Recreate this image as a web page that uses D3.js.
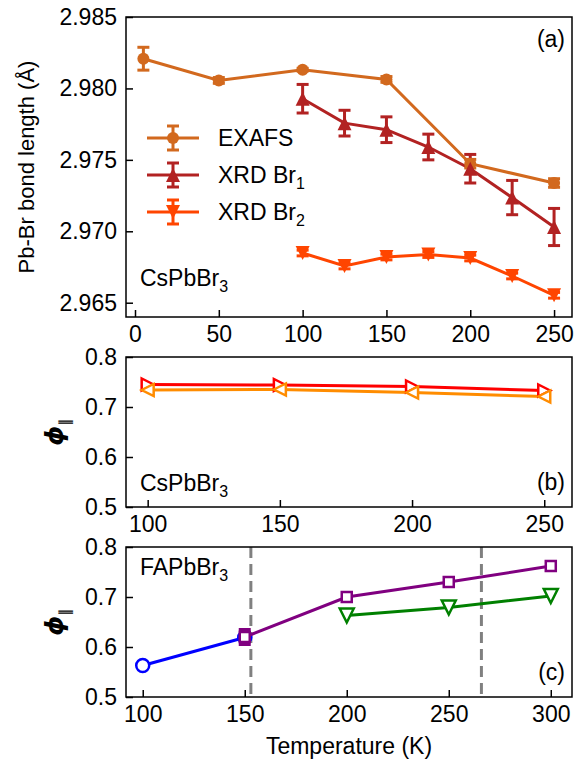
<!DOCTYPE html>
<html>
<head>
<meta charset="utf-8">
<title>Pb-Br bond length and phi</title>
<script src="https://d3js.org/d3.v7.min.js"></script>
<style type="text/css">
    body { margin: 0; background: #fff; }
    svg text { font-family: "Liberation Sans", Arial, sans-serif; fill: #000; }
</style>
</head>
<body>
<div id="chart"></div>
<script type="text/javascript">
// ---- data ----
// panel (a): Pb-Br bond length
var tempExafs = [5, 50, 100, 150, 200, 250];
var exafs = [2.98208, 2.98056, 2.98131, 2.98063, 2.97473, 2.97338];
var exafsErr = [0.0008, 0.0002, 0.0001, 0.0002, 0.0003, 0.0003];

var tempXrd = [100, 125, 150, 175, 200, 225, 250];
var xrdBr1 = [2.97928, 2.97757, 2.97711, 2.97590, 2.97438, 2.97236, 2.97030];
var xrdBr1Err = [0.0010, 0.0009, 0.0009, 0.0009, 0.0010, 0.0012, 0.0013];
var xrdBr2 = [2.96848, 2.96757, 2.96820, 2.96837, 2.96813, 2.96687, 2.96552];
var xrdBr2Err = [0.0002, 0.0002, 0.0002, 0.0002, 0.0002, 0.0002, 0.0002];

// panel (b): CsPbBr3 phi
var tempB = [100, 150, 200, 250];
var phiRed = [0.745, 0.744, 0.741, 0.733];
var phiOrange = [0.734, 0.735, 0.729, 0.721];

// panel (c): FAPbBr3 phi
var tempBlue = [100, 150];
var phiBlue = [0.563, 0.619];
var tempPurple = [150, 200, 250, 300];
var phiPurple = [0.620, 0.700, 0.730, 0.762];
var phiPurpleErr = [0.015, 0, 0, 0];
var tempGreen = [200, 250, 300];
var phiGreen = [0.663, 0.679, 0.702];
var phaseT = [153, 266];

// tick labels
var ticksAx = [0, 50, 100, 150, 200, 250];
var ticksAy = [2.965, 2.970, 2.975, 2.980, 2.985];
var ticksBx = [100, 150, 200, 250];
var ticksCx = [100, 150, 200, 250, 300];
var ticksPhi = [0.5, 0.6, 0.7, 0.8];

var W = 586, H = 762;
var left = 126, right = 572;
var fs = 23;

var svg = d3.select('#chart').append('svg')
    .attr('width', W).attr('height', H);

// marker shapes (matplotlib style, bbox centred)
function tri(dir, s) {
    if (dir == 'up') return 'M0,' + (-s) + 'L' + (-s) + ',' + s + 'L' + s + ',' + s + 'Z';
    if (dir == 'down') return 'M0,' + s + 'L' + (-s) + ',' + (-s) + 'L' + s + ',' + (-s) + 'Z';
    if (dir == 'right') return 'M' + s + ',0L' + (-s) + ',' + (-s) + 'L' + (-s) + ',' + s + 'Z';
    return 'M' + (-s) + ',0L' + s + ',' + (-s) + 'L' + s + ',' + s + 'Z';
}

function makePanel(top, bottom, xdom, ydom, xticks, yticks, yfmt) {
    var x = d3.scaleLinear().domain(xdom).range([left, right]);
    var y = d3.scaleLinear().domain(ydom).range([bottom, top]);
    var g = svg.append('g');
    var ax = g.append('g').attr('transform', 'translate(0,' + bottom + ')')
        .call(d3.axisBottom(x).tickValues(xticks).tickSizeInner(-7).tickSizeOuter(0).tickPadding(9).tickFormat(d3.format('d')));
    var ay = g.append('g').attr('transform', 'translate(' + left + ',0)')
        .call(d3.axisLeft(y).tickValues(yticks).tickSizeInner(-7).tickSizeOuter(0).tickPadding(9).tickFormat(d3.format(yfmt)));
    [ax, ay].forEach(function(a) {
        a.select('.domain').remove();
        a.selectAll('line').attr('stroke', '#000').attr('stroke-width', 1.5);
        a.selectAll('text').style('font-size', fs + 'px')
            .style('font-family', '"Liberation Sans", Arial, sans-serif');
    });
    var plot = g.append('g');
    g.append('rect').attr('x', left).attr('y', top)
        .attr('width', right - left).attr('height', bottom - top)
        .attr('fill', 'none').attr('stroke', '#000').attr('stroke-width', 1.5);
    return {x: x, y: y, g: plot};
}

function series(p, xs, ys, color, lw) {
    var line = d3.line().x(function(d, i) { return p.x(xs[i]); })
        .y(function(d) { return p.y(d); });
    p.g.append('path').datum(ys).attr('d', line)
        .attr('fill', 'none').attr('stroke', color).attr('stroke-width', lw);
}

function errbars(p, xs, ys, errs, color) {
    var gg = p.g.append('g').attr('stroke', color).attr('stroke-width', 3);
    ys.forEach(function(v, i) {
        if (!errs[i]) return;
        var cx = p.x(xs[i]), y0 = p.y(v - errs[i]), y1 = p.y(v + errs[i]);
        gg.append('line').attr('x1', cx).attr('x2', cx).attr('y1', y0).attr('y2', y1);
        gg.append('line').attr('x1', cx - 6).attr('x2', cx + 6).attr('y1', y0).attr('y2', y0);
        gg.append('line').attr('x1', cx - 6).attr('x2', cx + 6).attr('y1', y1).attr('y2', y1);
    });
}

function markers(p, xs, ys, pathFn, fill, stroke, sw) {
    p.g.append('g').selectAll('path').data(ys).enter().append('path')
        .attr('transform', function(d, i) { return 'translate(' + p.x(xs[i]) + ',' + p.y(d) + ')'; })
        .attr('d', pathFn)
        .attr('fill', fill).attr('stroke', stroke).attr('stroke-width', sw);
}

function circlePath(r) {
    return function() { return d3.arc()({innerRadius: 0, outerRadius: r, startAngle: 0, endAngle: 2 * Math.PI}); };
}
function squarePath(s) {
    return function() { return 'M' + (-s) + ',' + (-s) + 'H' + s + 'V' + s + 'H' + (-s) + 'Z'; };
}

function label(x, y, main, sub, anchor) {
    var t = svg.append('text').attr('x', x).attr('y', y)
        .attr('text-anchor', anchor || 'start').style('font-size', fs + 'px').text(main);
    if (sub) t.append('tspan').attr('dy', 6).style('font-size', '16px').text(sub);
    return t;
}

// ---- panel (a) ----
var cExafs = '#d2691e', cBr1 = '#b22222', cBr2 = '#ff4500';
var pa = makePanel(17, 317, [-5.37, 260.7], [2.9640, 2.985], ticksAx, ticksAy, '.3f');
series(pa, tempExafs, exafs, cExafs, 3);
series(pa, tempXrd, xrdBr1, cBr1, 3);
series(pa, tempXrd, xrdBr2, cBr2, 3);
errbars(pa, tempExafs, exafs, exafsErr, cExafs);
errbars(pa, tempXrd, xrdBr1, xrdBr1Err, cBr1);
errbars(pa, tempXrd, xrdBr2, xrdBr2Err, cBr2);
markers(pa, tempExafs, exafs, circlePath(6), cExafs, cExafs, 0);
markers(pa, tempXrd, xrdBr1, function() { return tri('up', 7); }, cBr1, cBr1, 0);
markers(pa, tempXrd, xrdBr2, function() { return tri('down', 7); }, cBr2, cBr2, 0);

// legend
var legItems = [
    {c: cExafs, m: circlePath(6)(), t: 'EXAFS', s: null},
    {c: cBr1, m: tri('up', 7), t: 'XRD Br', s: '1'},
    {c: cBr2, m: tri('down', 7), t: 'XRD Br', s: '2'}
];
var legRows = [138, 175, 212];
legItems.forEach(function(d, i) {
    var ly = legRows[i], lg = svg.append('g').attr('stroke', d.c).attr('stroke-width', 3);
    lg.append('line').attr('x1', 147).attr('x2', 199).attr('y1', ly).attr('y2', ly);
    lg.append('line').attr('x1', 173).attr('x2', 173).attr('y1', ly - 12).attr('y2', ly + 12);
    lg.append('line').attr('x1', 167).attr('x2', 179).attr('y1', ly - 12).attr('y2', ly - 12);
    lg.append('line').attr('x1', 167).attr('x2', 179).attr('y1', ly + 12).attr('y2', ly + 12);
    lg.append('path').attr('transform', 'translate(173,' + ly + ')').attr('d', d.m)
        .attr('fill', d.c).attr('stroke', 'none');
    label(218, ly + 8, d.t, d.s);
});
label(565, 47, '(a)', null, 'end');
label(140, 286, 'CsPbBr', '3');

svg.append('text').attr('transform', 'translate(34,167) rotate(-90)')
    .attr('text-anchor', 'middle').style('font-size', '22px').text('Pb-Br bond length (Å)');

// ---- panel (b) ----
var pb = makePanel(357, 507, [91.8, 260.5], [0.5, 0.8], ticksBx, ticksPhi, '.1f');
series(pb, tempB, phiRed, '#ff0000', 3);
series(pb, tempB, phiOrange, '#ff8c00', 3);
markers(pb, tempB, phiRed, function() { return tri('right', 6); }, '#fff', '#ff0000', 2.5);
markers(pb, tempB, phiOrange, function() { return tri('left', 6); }, '#fff', '#ff8c00', 2.5);
label(565, 490, '(b)', null, 'end');
label(140, 491, 'CsPbBr', '3');

// ---- panel (c) ----
var pc = makePanel(547, 697, [91.8, 310.4], [0.5, 0.8], ticksCx, ticksPhi, '.1f');
phaseT.forEach(function(t) {
    pc.g.append('line').attr('x1', pc.x(t)).attr('x2', pc.x(t)).attr('y1', 547).attr('y2', 697)
        .attr('stroke', '#808080').attr('stroke-width', 3).attr('stroke-dasharray', '11,6');
});
series(pc, tempBlue, phiBlue, '#0000ff', 3);
markers(pc, tempBlue, phiBlue, circlePath(6.5), '#fff', '#0000ff', 2.5);
series(pc, tempPurple, phiPurple, '#800080', 3);
errbars(pc, tempPurple, phiPurple, phiPurpleErr, '#800080');
markers(pc, tempPurple, phiPurple, squarePath(5), '#fff', '#800080', 2.5);
series(pc, tempGreen, phiGreen, '#008000', 3);
markers(pc, tempGreen, phiGreen, function() { return tri('down', 7); }, '#fff', '#008000', 2.5);
label(565, 680, '(c)', null, 'end');
label(140, 575, 'FAPbBr', '3');

svg.append('text').attr('x', 349).attr('y', 754).attr('text-anchor', 'middle')
    .style('font-size', fs + 'px').text('Temperature (K)');

// phi labels
[432, 622].forEach(function(cy) {
    var t = svg.append('text').attr('transform', 'translate(63,' + cy + ') rotate(-90)')
        .attr('text-anchor', 'middle');
    t.append('tspan').style('font-family', '"DejaVu Sans", sans-serif')
        .style('font-style', 'italic').style('font-weight', 'bold').style('font-size', '25px').text('ϕ');
    t.append('tspan').attr('dy', 7).style('font-family', '"DejaVu Sans", sans-serif')
        .style('font-size', '15px').text('∥');
});
</script>
</body>
</html>
